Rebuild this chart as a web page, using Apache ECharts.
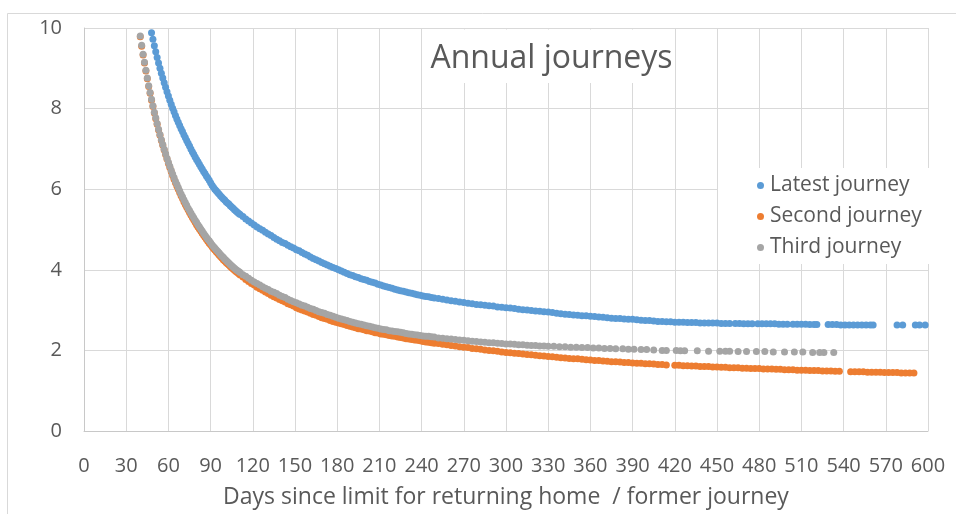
<!DOCTYPE html>
<html>
<head>
<meta charset="utf-8">
<script src="https://cdn.jsdelivr.net/npm/echarts@6/dist/echarts.min.js"></script>
<style>
html,body{margin:0;padding:0;background:#fff;}
#chart{width:956px;height:514px;}
</style>
</head>
<body>
<div id="chart"></div>
<script>
// ---- data: [days, journeys per year] ----
const seriesNames = ['Latest journey', 'Second journey', 'Third journey'];
const chartTitle = 'Annual journeys';
const xAxisTitle = 'Days since limit for returning home  / former journey';

const latestJourney = [[48,9.88],[49,9.72],[50,9.56],[51,9.41],[52,9.27],[53,9.13],[54,9.00],[55,8.88],[56,8.76],[57,8.64],[58,8.53],[59,8.42],[60,8.31],[61,8.21],[62,8.11],[63,8.01],[64,7.92],[65,7.83],[66,7.74],[67,7.66],[68,7.58],[69,7.50],[70,7.43],[71,7.35],[72,7.28],[73,7.21],[74,7.14],[75,7.07],[76,7.00],[77,6.93],[78,6.87],[79,6.80],[80,6.74],[81,6.68],[82,6.62],[83,6.56],[84,6.50],[85,6.44],[86,6.39],[87,6.33],[88,6.28],[89,6.22],[90,6.16],[91,6.10],[92,6.05],[93,6.00],[94,5.96],[95,5.92],[96,5.88],[97,5.84],[98,5.80],[99,5.76],[100,5.73],[101,5.69],[102,5.66],[103,5.63],[104,5.59],[105,5.56],[106,5.53],[107,5.49],[108,5.46],[109,5.43],[110,5.40],[111,5.37],[113,5.32],[115,5.26],[117,5.21],[119,5.16],[121,5.11],[123,5.06],[125,5.02],[127,4.98],[129,4.93],[131,4.89],[133,4.85],[135,4.80],[137,4.76],[139,4.72],[141,4.68],[143,4.65],[145,4.61],[147,4.57],[149,4.54],[151,4.50],[153,4.47],[155,4.43],[157,4.39],[159,4.36],[161,4.32],[163,4.28],[165,4.25],[167,4.22],[169,4.18],[171,4.15],[173,4.12],[175,4.09],[177,4.06],[179,4.03],[181,4.00],[183,3.97],[185,3.94],[187,3.91],[189,3.88],[191,3.86],[193,3.83],[195,3.81],[197,3.78],[199,3.76],[201,3.74],[203,3.71],[205,3.69],[207,3.67],[209,3.64],[211,3.62],[213,3.60],[215,3.58],[217,3.56],[219,3.54],[221,3.52],[223,3.50],[225,3.48],[227,3.47],[229,3.45],[231,3.43],[233,3.42],[235,3.40],[237,3.38],[239,3.37],[241,3.35],[243,3.34],[245,3.33],[247,3.31],[249,3.30],[252,3.29],[255,3.27],[258,3.25],[261,3.23],[264,3.22],[267,3.20],[270,3.19],[273,3.17],[276,3.16],[279,3.14],[282,3.13],[285,3.12],[288,3.11],[291,3.10],[294,3.08],[297,3.07],[300,3.06],[303,3.05],[306,3.04],[309,3.02],[312,3.01],[315,3.00],[318,2.99],[321,2.98],[324,2.97],[327,2.96],[330,2.95],[333,2.94],[336,2.92],[339,2.91],[342,2.90],[345,2.89],[348,2.88],[351,2.87],[354,2.86],[357,2.86],[360,2.85],[363,2.84],[366,2.83],[369,2.82],[372,2.81],[375,2.80],[378,2.79],[381,2.79],[384,2.78],[387,2.77],[390,2.77],[393,2.76],[396,2.75],[399,2.74],[402,2.74],[405,2.73],[408,2.72],[411,2.72],[414,2.71],[417,2.71],[420,2.70],[423,2.70],[426,2.70],[429,2.69],[432,2.69],[435,2.69],[438,2.68],[441,2.68],[444,2.68],[447,2.68],[450,2.68],[453,2.67],[456,2.67],[459,2.67],[463,2.67],[466,2.67],[469,2.66],[472,2.66],[475,2.66],[479,2.66],[482,2.66],[485,2.66],[488,2.66],[491,2.66],[494,2.65],[497,2.65],[500,2.65],[504,2.65],[507,2.65],[510,2.65],[513,2.65],[516,2.64],[519,2.64],[521,2.64],[529,2.64],[532,2.64],[535,2.64],[538,2.63],[541,2.63],[544,2.63],[547,2.63],[550,2.63],[553,2.63],[556,2.63],[559,2.63],[561,2.63],[578,2.63],[582,2.63],[591,2.63],[594,2.63],[598,2.63]];

const secondJourney = [[40,9.78],[41,9.55],[42,9.33],[43,9.13],[44,8.93],[45,8.74],[46,8.55],[47,8.38],[48,8.21],[49,8.05],[50,7.89],[51,7.75],[52,7.61],[53,7.47],[54,7.34],[55,7.21],[56,7.09],[57,6.97],[58,6.86],[59,6.75],[60,6.64],[61,6.54],[62,6.44],[63,6.34],[64,6.25],[65,6.16],[66,6.08],[67,6.00],[68,5.92],[69,5.84],[70,5.77],[71,5.69],[72,5.62],[73,5.55],[74,5.49],[75,5.42],[76,5.36],[77,5.30],[78,5.24],[79,5.18],[80,5.12],[81,5.06],[82,5.01],[83,4.96],[84,4.91],[85,4.86],[86,4.81],[87,4.76],[88,4.71],[89,4.66],[90,4.62],[91,4.57],[92,4.53],[93,4.49],[94,4.45],[95,4.41],[96,4.37],[97,4.33],[98,4.29],[99,4.25],[100,4.22],[101,4.18],[102,4.15],[103,4.12],[104,4.08],[105,4.05],[106,4.02],[107,3.99],[108,3.96],[109,3.93],[110,3.90],[111,3.87],[113,3.82],[115,3.76],[117,3.71],[119,3.66],[121,3.62],[123,3.57],[125,3.53],[127,3.49],[129,3.45],[131,3.41],[133,3.37],[135,3.33],[137,3.30],[139,3.26],[141,3.23],[143,3.20],[145,3.16],[147,3.13],[149,3.10],[151,3.06],[153,3.03],[155,3.00],[157,2.98],[159,2.95],[161,2.92],[163,2.89],[165,2.87],[167,2.84],[169,2.81],[171,2.79],[173,2.77],[175,2.74],[177,2.72],[179,2.70],[181,2.68],[183,2.66],[185,2.64],[187,2.62],[189,2.60],[191,2.58],[193,2.56],[195,2.54],[197,2.53],[199,2.51],[201,2.49],[203,2.48],[205,2.46],[207,2.44],[209,2.43],[211,2.41],[213,2.40],[215,2.39],[217,2.37],[219,2.36],[221,2.35],[223,2.33],[225,2.32],[227,2.31],[229,2.29],[231,2.28],[233,2.27],[235,2.26],[237,2.25],[239,2.24],[241,2.22],[243,2.21],[245,2.20],[247,2.19],[249,2.18],[252,2.17],[255,2.15],[258,2.14],[261,2.12],[264,2.11],[267,2.09],[270,2.08],[273,2.07],[276,2.05],[279,2.04],[282,2.03],[285,2.01],[288,2.00],[291,1.99],[294,1.98],[297,1.96],[300,1.95],[303,1.94],[306,1.93],[309,1.92],[312,1.91],[315,1.90],[318,1.89],[321,1.88],[324,1.87],[327,1.86],[330,1.85],[333,1.84],[336,1.83],[339,1.82],[342,1.81],[345,1.80],[348,1.79],[351,1.79],[354,1.78],[357,1.77],[360,1.76],[363,1.75],[366,1.75],[369,1.74],[372,1.73],[375,1.72],[378,1.72],[381,1.71],[384,1.70],[387,1.70],[390,1.69],[393,1.68],[396,1.68],[399,1.67],[402,1.67],[405,1.66],[408,1.65],[411,1.65],[414,1.64],[420,1.63],[423,1.63],[426,1.62],[429,1.62],[432,1.61],[435,1.61],[438,1.60],[441,1.60],[444,1.60],[447,1.59],[450,1.59],[453,1.58],[456,1.58],[459,1.57],[462,1.57],[465,1.57],[468,1.56],[471,1.56],[474,1.55],[477,1.55],[480,1.55],[483,1.54],[486,1.54],[489,1.54],[492,1.53],[495,1.53],[498,1.52],[501,1.52],[504,1.52],[507,1.51],[510,1.51],[513,1.51],[516,1.50],[519,1.50],[522,1.50],[525,1.49],[528,1.49],[531,1.49],[534,1.48],[537,1.48],[545,1.47],[548,1.47],[551,1.47],[554,1.47],[557,1.46],[560,1.46],[563,1.46],[566,1.46],[569,1.45],[572,1.45],[575,1.45],[578,1.45],[581,1.44],[584,1.44],[587,1.44],[590,1.44]];

const thirdJourney = [[40,9.80],[41,9.57],[42,9.35],[43,9.15],[44,8.95],[45,8.76],[46,8.57],[47,8.40],[48,8.23],[49,8.07],[50,7.91],[51,7.77],[52,7.63],[53,7.49],[54,7.36],[55,7.23],[56,7.11],[57,6.99],[58,6.88],[59,6.77],[60,6.67],[61,6.57],[62,6.47],[63,6.38],[64,6.29],[65,6.20],[66,6.12],[67,6.04],[68,5.96],[69,5.88],[70,5.81],[71,5.74],[72,5.67],[73,5.60],[74,5.53],[75,5.47],[76,5.41],[77,5.35],[78,5.29],[79,5.23],[80,5.18],[81,5.12],[82,5.07],[83,5.01],[84,4.96],[85,4.91],[86,4.86],[87,4.81],[88,4.76],[89,4.72],[90,4.67],[91,4.62],[92,4.58],[93,4.54],[94,4.50],[95,4.46],[96,4.42],[97,4.38],[98,4.34],[99,4.31],[100,4.27],[101,4.24],[102,4.20],[103,4.17],[104,4.13],[105,4.10],[106,4.07],[107,4.04],[108,4.01],[109,3.98],[110,3.96],[111,3.93],[113,3.88],[115,3.84],[117,3.79],[119,3.74],[121,3.70],[123,3.66],[125,3.62],[127,3.58],[129,3.54],[131,3.51],[133,3.47],[135,3.44],[137,3.41],[139,3.37],[141,3.34],[143,3.31],[145,3.27],[147,3.24],[149,3.21],[151,3.18],[153,3.15],[155,3.12],[157,3.10],[159,3.07],[161,3.04],[163,3.02],[165,2.99],[167,2.96],[169,2.94],[171,2.92],[173,2.89],[175,2.87],[177,2.85],[179,2.82],[181,2.80],[183,2.78],[185,2.76],[187,2.74],[189,2.72],[191,2.70],[193,2.68],[195,2.66],[197,2.65],[199,2.63],[201,2.61],[203,2.60],[205,2.58],[207,2.56],[209,2.55],[211,2.53],[213,2.52],[215,2.51],[217,2.49],[219,2.48],[221,2.47],[223,2.46],[225,2.45],[227,2.44],[229,2.42],[231,2.41],[233,2.40],[235,2.39],[237,2.38],[239,2.37],[241,2.36],[243,2.35],[245,2.35],[247,2.34],[249,2.33],[252,2.31],[255,2.30],[258,2.29],[261,2.28],[264,2.27],[267,2.26],[270,2.25],[273,2.24],[276,2.23],[279,2.22],[282,2.21],[285,2.20],[288,2.19],[291,2.19],[294,2.18],[297,2.17],[300,2.16],[303,2.16],[306,2.15],[309,2.14],[312,2.14],[315,2.13],[318,2.12],[321,2.12],[324,2.11],[327,2.11],[330,2.10],[334,2.10],[338,2.09],[342,2.09],[346,2.08],[350,2.08],[354,2.07],[358,2.07],[362,2.06],[366,2.06],[370,2.05],[374,2.05],[378,2.04],[383,2.04],[387,2.03],[391,2.03],[396,2.02],[400,2.02],[405,2.01],[411,2.00],[414,2.00],[421,2.00],[424,1.99],[427,1.99],[436,1.99],[444,1.98],[452,1.98],[456,1.98],[459,1.98],[465,1.97],[471,1.97],[478,1.97],[484,1.97],[490,1.96],[498,1.96],[505,1.96],[511,1.96],[518,1.95],[523,1.95],[526,1.95],[533,1.95]];

const seriesData = [latestJourney, secondJourney, thirdJourney];
const seriesColors = ['#5B9BD5', '#ED7D31', '#A5A5A5'];

const FONT = '"Open Sans", "Noto Sans", sans-serif';
const TEXT = '#595959';

const chart = echarts.init(document.getElementById('chart'), null, {renderer: 'canvas'});
chart.setOption({
  animation: false,
  backgroundColor: '#ffffff',
  textStyle: {fontFamily: FONT},
  grid: {left: 84, top: 28, width: 844, height: 410, containLabel: false},
  xAxis: {
    type: 'value', min: 0, max: 600, interval: 30,
    name: xAxisTitle, nameLocation: 'middle', nameGap: 55,
    nameTextStyle: {fontSize: 23, color: TEXT, fontFamily: FONT},
    axisLine: {show: true, lineStyle: {color: '#c8c8c8', width: 1}},
    axisTick: {show: false},
    axisLabel: {fontSize: 20, color: TEXT, margin: 25, fontFamily: FONT},
    splitLine: {show: true, lineStyle: {color: '#d9d9d9', width: 1}}
  },
  yAxis: {
    type: 'value', min: 0, max: 10, interval: 2,
    axisLine: {show: true, lineStyle: {color: '#c8c8c8', width: 1}},
    axisTick: {show: false},
    axisLabel: {fontSize: 20, color: TEXT, margin: 22, fontFamily: FONT},
    splitLine: {show: true, lineStyle: {color: '#d9d9d9', width: 1}}
  },
  legend: {
    orient: 'vertical', left: 718, top: 168,
    padding: [7, 14, 6, 39],
    backgroundColor: '#ffffff',
    icon: 'circle', itemWidth: 9, itemHeight: 7, itemGap: 10,
    textStyle: {fontSize: 21, color: TEXT, fontFamily: FONT, lineHeight: 21},
    data: seriesNames,
    selectedMode: false
  },
  graphic: [
    {type: 'rect', silent: true, z: -10, shape: {x: 7.5, y: 13.5, width: 1000, height: 600},
     style: {fill: 'none', stroke: '#d9d9d9', lineWidth: 1}},
    {type: 'rect', silent: true, z: 100, shape: {x: 422, y: 29.5, width: 253, height: 53.5},
     style: {fill: '#ffffff'}},
    {type: 'text', silent: true, z: 101, x: 551.5, y: 59,
     style: {text: chartTitle, font: '32px ' + FONT, fill: TEXT, textAlign: 'center', textVerticalAlign: 'middle'}}
  ],
  series: seriesNames.map((name, i) => ({
    name: name,
    type: 'scatter',
    data: seriesData[i],
    symbol: 'circle',
    symbolSize: 7,
    silent: true,
    itemStyle: {color: seriesColors[i], opacity: 1},
    emphasis: {disabled: true}
  }))
});
</script>
</body>
</html>
